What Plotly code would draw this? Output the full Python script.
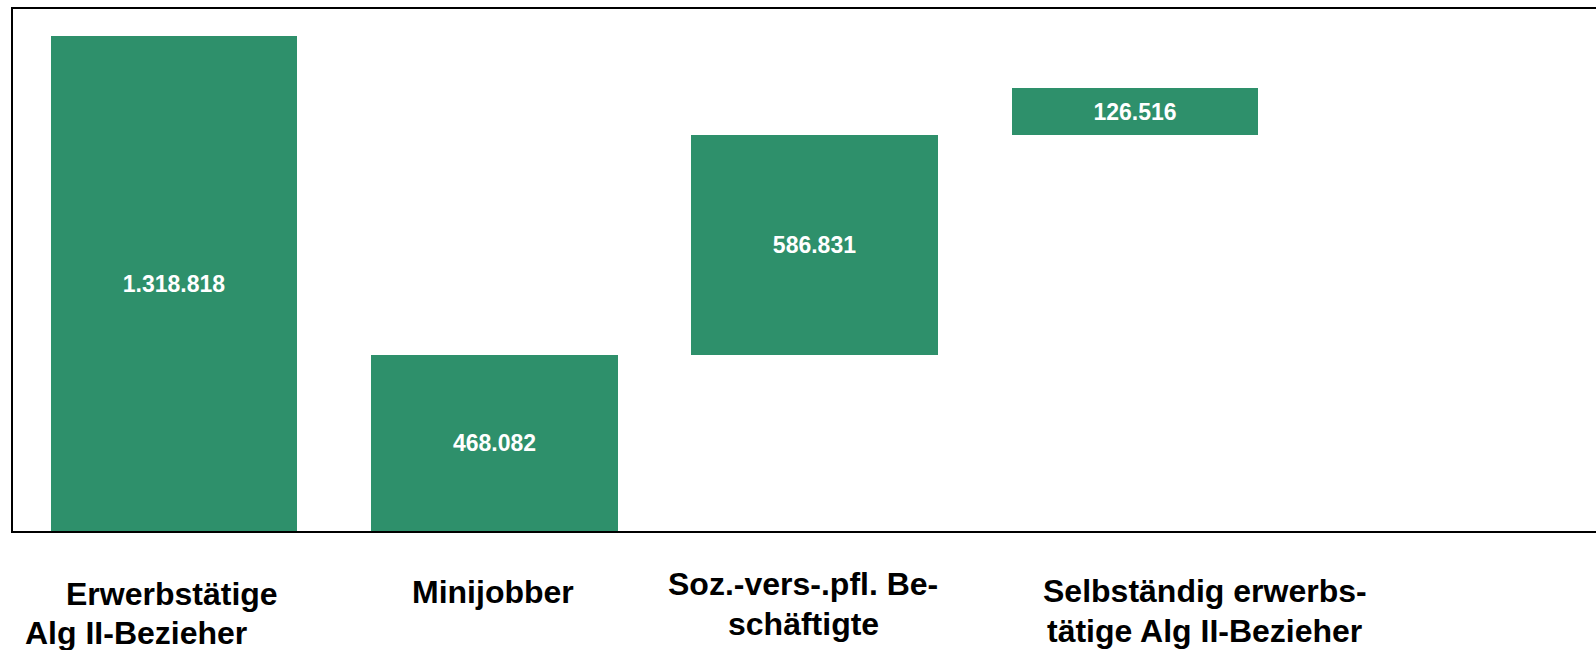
import plotly.graph_objects as go

# Data
categories = ["Erwerbstätige Alg II-Bezieher", "Minijobber",
              "Soz.-vers-.pfl. Beschäftigte", "Selbständig erwerbstätige Alg II-Bezieher"]
label_lines = [["Erwerbstätige", "Alg II-Bezieher"],
               ["Minijobber"],
               ["Soz.-vers-.pfl. Be-", "schäftigte"],
               ["Selbständig erwerbs-", "tätige Alg II-Bezieher"]]
values = [1318818, 468082, 586831, 126516]
is_total = [True, False, False, False]

# bases: the total starts at 0; components stack up from 0
bases = []
running = 0
for v, t in zip(values, is_total):
    if t:
        bases.append(0)
    else:
        bases.append(running)
        running += v

x_pos = list(range(len(values)))
GREEN = "#2E906B"
FONT = "Liberation Sans, Arial, sans-serif"

fig = go.Figure()
fig.add_trace(go.Bar(
    x=x_pos, y=values, base=bases, width=0.77,
    marker=dict(color=GREEN, line=dict(width=0)),
    texttemplate="%{y:,}", textposition="inside", insidetextanchor="middle",
    textfont=dict(family=FONT, size=23, color="white", weight="bold"),
    textangle=0, hoverinfo="skip", showlegend=False,
))

# label layout (pixel offsets relative to bar centre / plot bottom)
line_xshift = [[-2.5, -38], [-1], [-12, -11], [70, 69]]
line_baseline = [[607, 646], [605], [597, 637], [604, 644]]
PLOT_BOTTOM = 531
for i, lines in enumerate(label_lines):
    for j, txt in enumerate(lines):
        fig.add_annotation(
            x=x_pos[i], xref="x", y=0, yref="paper",
            text=txt, showarrow=False, xanchor="center", yanchor="middle",
            xshift=line_xshift[i][j],
            yshift=-(line_baseline[i][j] - 13 - PLOT_BOTTOM),
            font=dict(family=FONT, size=32, color="black", weight="bold"),
        )

fig.update_layout(
    width=1596, height=650,
    margin=dict(l=13, r=0, t=9, b=119, pad=0),
    paper_bgcolor="white", plot_bgcolor="white",
    separators=",.",
    bargap=0,
    xaxis=dict(range=[-0.5026, 4.439], showgrid=False, zeroline=False,
               showticklabels=False, ticks="", showline=True, linecolor="black",
               linewidth=2, mirror=True, fixedrange=True),
    yaxis=dict(range=[0, 1390760], showgrid=False, zeroline=False,
               showticklabels=False, ticks="", showline=True, linecolor="black",
               linewidth=2, mirror=False, fixedrange=True),
)

fig.write_html("out.html", config={"displayModeBar": False},
               post_script="document.body.style.margin='0';")
